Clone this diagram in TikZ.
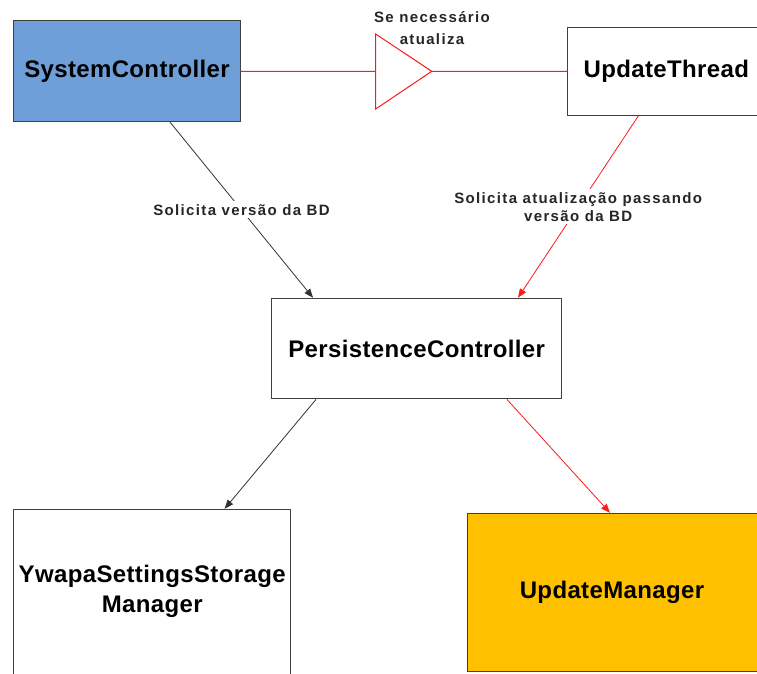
\documentclass[tikz,border=0pt]{standalone}
\usepackage{fontspec}
\setmainfont{Liberation Sans}
\newfontfamily\boxfont[LetterSpace=1.5]{Liberation Sans}
\newfontfamily\lblfont[LetterSpace=9]{Liberation Sans}
\usetikzlibrary{arrows.meta}
\definecolor{scblue}{HTML}{6F9FD9}
\definecolor{umorange}{HTML}{FFC000}
\definecolor{boxline}{HTML}{404040}
\definecolor{lnred}{HTML}{FF1A1A}
\begin{document}
\begin{tikzpicture}[x=1pt,y=-1pt,
  box/.style={draw=boxline, line width=1pt, rectangle, inner sep=0pt, align=center,
    font=\boxfont\bfseries\fontsize{24}{30}\selectfont, text=black},
  lbl/.style={font=\lblfont\bfseries\fontsize{15}{18}\selectfont, fill=white, align=center,
    inner sep=3pt, text=black!85},
  blk/.style={draw=black!80, line width=0.8pt, -{Triangle[length=9pt,width=7pt]}},
  rd/.style={draw=lnred, line width=0.8pt, -{Triangle[length=9pt,width=7pt]}},
  redline/.style={draw=lnred, line width=1pt}]
\clip (0,0) rectangle (757,673);
\fill[white] (0,0) rectangle (757,673);
\useasboundingbox (0,0) rectangle (757,673);

\node[box, fill=scblue, minimum width=227.4pt, minimum height=100.7pt] (sc) at (127,71.3) {SystemController};
\node[box, fill=white, minimum width=197.3pt, minimum height=88.4pt] (ut) at (666.3,71.3) {UpdateThread};
\node[box, fill=white, minimum width=290pt, minimum height=100.7pt] (pc) at (416.7,348.6) {PersistenceController};
\node[box, fill=white, minimum width=277.5pt, minimum height=164.8pt] (ys) at (152.2,591.7) {YwapaSettingsStorage\\Manager};
\node[box, fill=umorange, minimum width=290pt, minimum height=158.4pt] (um) at (612,592.5) {UpdateManager};

% triangle
\coordinate (tt) at (375.7,34);
\coordinate (tb) at (375.7,109);
\coordinate (tm) at (375.7,71.3);
\coordinate (tip) at (431.7,71.3);
\draw[redline, line join=miter] (tt) -- (tb) -- (tip) -- cycle;
\draw[redline] (sc.east) -- ([yshift=-0.01pt]tm);
\draw[redline] (tip) -- ([yshift=0.01pt]ut.west);
\node[font=\lblfont\bfseries\fontsize{15}{22}\selectfont, align=center, text=black!85, inner sep=0pt] (lt) at (432,28) {Se necessário\\atualiza};

% connectors
\draw[blk] ([xshift=43pt]sc.south) -- node[lbl, pos=0.5] (l1) {Solicita versão da BD} ([xshift=-103.7pt]pc.north);
\draw[rd] ([xshift=-28pt]ut.south) -- node[lbl, pos=0.5] (l2) {Solicita atualização passando\\versão da BD} ([xshift=101.3pt]pc.north);
\draw[blk] ([xshift=-100.7pt]pc.south) -- ([xshift=72.4pt]ys.north);
\draw[rd] ([xshift=90.3pt]pc.south) -- ([xshift=-2pt]um.north);
\end{tikzpicture}
\end{document}
